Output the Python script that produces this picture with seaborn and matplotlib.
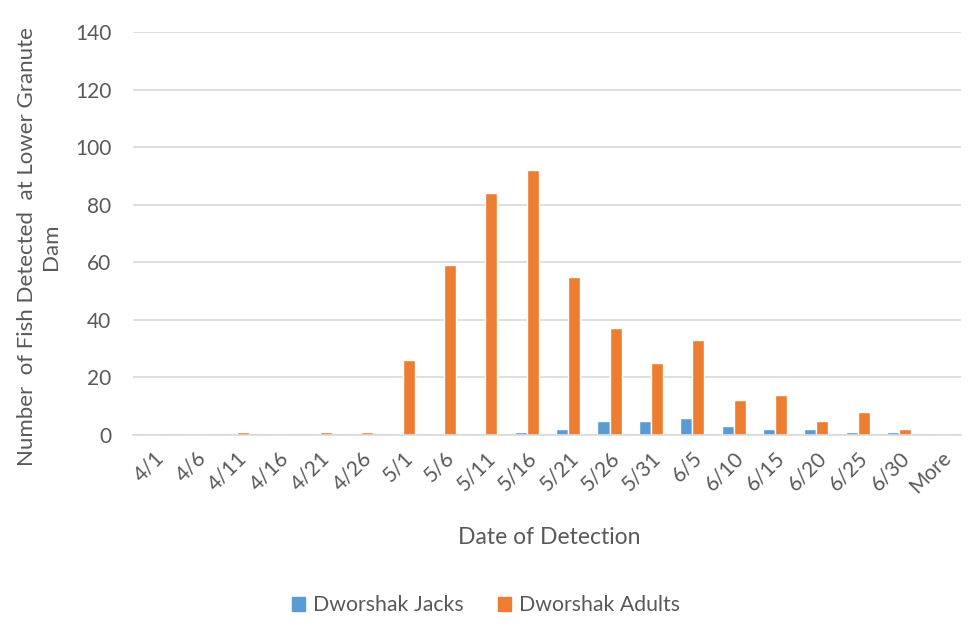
import matplotlib
matplotlib.use("Agg")
import matplotlib.pyplot as plt
import matplotlib.transforms as mtransforms
import seaborn as sns
import pandas as pd

dates = ["4/1", "4/6", "4/11", "4/16", "4/21", "4/26", "5/1", "5/6", "5/11", "5/16",
         "5/21", "5/26", "5/31", "6/5", "6/10", "6/15", "6/20", "6/25", "6/30", "More"]
jacks = [0, 0, 0, 0, 0, 0, 0, 0, 0, 1, 2, 5, 5, 6, 3, 2, 2, 1, 1, 0]
adults = [0, 0, 1, 0, 1, 1, 26, 59, 84, 92, 55, 37, 25, 33, 12, 14, 5, 8, 2, 0]
series = ["Dworshak Jacks", "Dworshak Adults"]
colors = ["#5B9BD5", "#ED7D31"]
yticks = [0, 20, 40, 60, 80, 100, 120, 140]

df = pd.DataFrame({
    "date": dates * 2,
    "count": jacks + adults,
    "series": [series[0]] * len(dates) + [series[1]] * len(dates),
})

sns.set_style("white")
plt.rcParams["font.family"] = ["Lato", "DejaVu Sans"]
text_color = "#595959"
grid_color = "#D9D9D9"

fig = plt.figure(figsize=(9.79, 6.40), dpi=100)
ax = fig.add_axes([0.1363, 0.3203, 0.8457, 0.6297])

sns.barplot(data=df, x="date", y="count", hue="series", order=dates,
            hue_order=series, palette=colors, width=0.58, ax=ax,
            legend=False, saturation=1)

ax.set_ylim(0, 140)
ax.set_xlim(-0.5, len(dates) - 0.5)
ax.set_yticks(yticks)
ax.yaxis.grid(True, color=grid_color, linewidth=1.2)
ax.set_axisbelow(True)
for side in ["top", "right", "left"]:
    ax.spines[side].set_visible(False)
ax.spines["bottom"].set_color(grid_color)
ax.spines["bottom"].set_linewidth(1.2)
ax.tick_params(axis="both", length=0, colors=text_color, labelsize=15)
ax.tick_params(axis="y", pad=16)

offset = mtransforms.ScaledTranslation(0.07, -0.15, fig.dpi_scale_trans)
for lbl in ax.get_xticklabels():
    lbl.set_rotation(45)
    lbl.set_ha("right")
    lbl.set_va("center")
    lbl.set_rotation_mode("anchor")
    lbl.set_transform(lbl.get_transform() + offset)

ax.set_xlabel("")
ax.set_ylabel("")
fig.text(549 / 979, 1 - 537 / 640, "Date of Detection", color=text_color,
         fontsize=16.5, ha="center", va="center")
fig.text(39 / 979, 1 - 247 / 640, "Number  of Fish Detected  at Lower Granute\nDam",
         color=text_color, fontsize=16, rotation=90, ha="center", va="center",
         multialignment="center", linespacing=1.3)

handles = [plt.Rectangle((0, 0), 1, 1, color=c) for c in colors]
fig.legend(handles, series, loc="center", bbox_to_anchor=(0.4966, 0.054), ncol=2,
           frameon=False, fontsize=15.3, labelcolor=text_color, handlelength=0.6,
           handleheight=0.6, handletextpad=0.4, columnspacing=1.6)

fig.savefig("out.png", dpi=100)
